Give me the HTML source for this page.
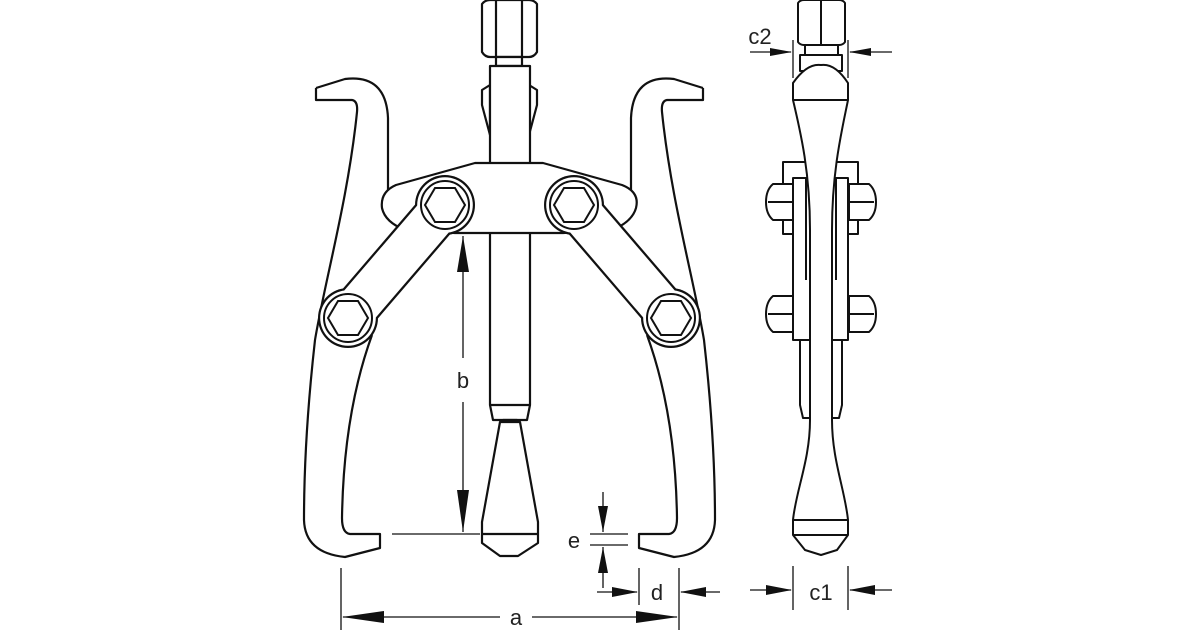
<!DOCTYPE html>
<html><head><meta charset="utf-8"><style>
html,body{margin:0;padding:0;background:#fff}
svg{display:block}
text{font-family:"Liberation Sans",sans-serif;font-size:22px;fill:#222}
</style></head><body>
<svg width="1200" height="630" viewBox="0 0 1200 630" xmlns="http://www.w3.org/2000/svg">
<defs>
<g id="jaw" fill="none" stroke="#111" stroke-width="2.2" stroke-linejoin="round">
  <path d="M316,88 L316,100 L352,100 Q358,101 357,112 C348,200 325,280 315,340 C306,420 304,480 304,520 Q305,553 345,557 L380,548 L380,534 L350,534 Q342,533 342,518 C343,450 352,390 372,335"/>
  <path d="M316,88 L345,79 Q386,74 388,118 L388,190"/>
</g>
<g id="arm">
  <line x1="445" y1="205" x2="348" y2="318" stroke="#111" stroke-width="46"/>
  <circle cx="445" cy="205" r="30" fill="#111"/><circle cx="348" cy="318" r="30" fill="#111"/>
  <line x1="445" y1="205" x2="348" y2="318" stroke="#fff" stroke-width="41.5"/>
  <circle cx="445" cy="205" r="27.8" fill="#fff"/><circle cx="348" cy="318" r="27.8" fill="#fff"/>
  <circle cx="348" cy="318" r="24" fill="none" stroke="#111" stroke-width="2"/>
  <circle cx="445" cy="205" r="24" fill="none" stroke="#111" stroke-width="2"/>
  <polygon points="425,205 435,188 455,188 465,205 455,222 435,222" fill="none" stroke="#111" stroke-width="2"/>
  <polygon points="328,318 338,301 358,301 368,318 358,335 338,335" fill="none" stroke="#111" stroke-width="2"/>
</g>
<marker id="ah" viewBox="0 0 10 10" refX="10" refY="5" markerWidth="10" markerHeight="4" markerUnits="userSpaceOnUse" orient="auto"><path d="M0,0 L10,5 L0,10Z" fill="#111"/></marker>
</defs>

<!-- jaws -->
<use href="#jaw"/>
<g transform="translate(1019,0) scale(-1,1)"><use href="#jaw"/></g>

<g fill="#fff" stroke="#111" stroke-width="2.2" stroke-linejoin="round">
  <!-- nut -->
  <path d="M482,4 Q485,0 490,0 L529,0 Q534,0 537,4 L537,52 Q534,57 529,57 L490,57 Q485,57 482,52Z"/>
  <line x1="496" y1="0" x2="496" y2="57"/><line x1="522" y1="0" x2="522" y2="57"/>
  <rect x="496" y="57" width="26" height="9"/>
  <!-- side guards -->
  <path d="M482,90 L490,85 L490,135 L482,105Z"/>
  <path d="M537,90 L529,85 L529,135 L537,105Z"/>
  <!-- spindle -->
  <path d="M490,66 L530,66 L530,405 L527,420 L493,420 L490,405Z"/>
  <line x1="490" y1="405" x2="530" y2="405"/>
  <path d="M503,420 L517,420 L509,437Z"/>
  <!-- foot -->
  <path d="M500,422 L520,422 L538,522 L538,543 L518,556 L500,556 L482,543 L482,522Z"/>
  <line x1="482" y1="534" x2="538" y2="534"/>
  <line x1="482" y1="522" x2="538" y2="522" stroke-width="0"/>
  <!-- yoke -->
  <path d="M475,163 L543,163 L622,185 Q640,192 636,208 Q632,222 612,230 L563,233 L455,233 L405,230 Q385,222 382,208 Q380,192 396,185Z"/>
</g>

<!-- arms -->
<use href="#arm"/>
<g transform="translate(1019,0) scale(-1,1)"><use href="#arm"/></g>

<!-- dimension lines -->
<g stroke="#111" stroke-width="1.3" fill="none">
  <!-- b -->
  <line x1="463" y1="236" x2="463" y2="358" marker-start="url(#ahs)"/>
  <line x1="463" y1="402" x2="463" y2="532"/>
  <line x1="392" y1="534" x2="480" y2="534"/>
  <!-- e -->
  <line x1="590" y1="534" x2="628" y2="534"/>
  <line x1="590" y1="545" x2="628" y2="545"/>
  <line x1="603" y1="492" x2="603" y2="532"/>
  <line x1="603" y1="547" x2="603" y2="588"/>
  <!-- d -->
  <line x1="639" y1="568" x2="639" y2="605"/>
  <line x1="679" y1="568" x2="679" y2="630"/>
  <line x1="597" y1="592" x2="637" y2="592"/>
  <line x1="681" y1="592" x2="720" y2="592"/>
  <!-- a -->
  <line x1="341" y1="568" x2="341" y2="630"/>
  <line x1="343" y1="617" x2="500" y2="617"/>
  <line x1="532" y1="617" x2="677" y2="617"/>
</g>
<g fill="#111">
  <path d="M463,236 L457,272 L469,272Z"/>
  <path d="M463,532 L457,490 L469,490Z"/>
  <path d="M603,532 L598,506 L608,506Z"/>
  <path d="M603,547 L598,573 L608,573Z"/>
  <path d="M638,592 L612,587 L612,597Z"/>
  <path d="M680,592 L706,587 L706,597Z"/>
  <path d="M342,617 L384,611 L384,623Z"/>
  <path d="M678,617 L636,611 L636,623Z"/>
</g>
<text x="463" y="388" text-anchor="middle">b</text>
<text x="574" y="548" text-anchor="middle">e</text>
<text x="657" y="600" text-anchor="middle">d</text>
<text x="516" y="625" text-anchor="middle">a</text>

<!-- side view -->
<g fill="#fff" stroke="#111" stroke-width="2" stroke-linejoin="round">
  <path d="M798,3 Q800,0 804,0 L839,0 Q843,0 845,3 L845,42 Q843,45 839,45 L804,45 Q800,45 798,42Z"/>
  <line x1="821" y1="0" x2="821" y2="45"/>
  <rect x="805" y="45" width="33" height="10"/>
  <rect x="800" y="55" width="42" height="16"/>
  <!-- bracket -->
  <rect x="783" y="162" width="75" height="72"/>
  <!-- nuts -->
  <path d="M773,184 L793,184 L793,220 L773,220 Q766,214 766,202 Q766,190 773,184Z"/>
  <line x1="768" y1="202" x2="793" y2="202"/>
  <path d="M869,184 L849,184 L849,220 L869,220 Q876,214 876,202 Q876,190 869,184Z"/>
  <line x1="849" y1="202" x2="874" y2="202"/>
  <path d="M773,296 L793,296 L793,332 L773,332 Q766,326 766,314 Q766,302 773,296Z"/>
  <line x1="768" y1="314" x2="793" y2="314"/>
  <path d="M869,296 L849,296 L849,332 L869,332 Q876,326 876,314 Q876,302 869,296Z"/>
  <line x1="849" y1="314" x2="874" y2="314"/>
  <!-- lower strips -->
  <path d="M800,340 L810,340 L810,418 L803,418 L800,405Z"/>
  <path d="M842,340 L832,340 L832,418 L839,418 L842,405Z"/>
  <!-- plates -->
  <rect x="793" y="178" width="17" height="162"/>
  <rect x="832" y="178" width="16" height="162"/>
  <line x1="806" y1="178" x2="806" y2="280" fill="none"/>
  <line x1="836" y1="178" x2="836" y2="280" fill="none"/>
  <!-- body -->
  <path d="M793,83 L793,100 C800,130 810,170 810,230 L810,420 C810,460 796,490 793,520 L793,535 L805,550 L821,555 L837,550 L848,535 L848,520 C845,490 832,460 832,420 L832,230 C832,170 842,130 848,100 L848,83 Q835,63 821,65 Q807,63 793,83Z"/>
  <line x1="793" y1="100" x2="848" y2="100"/>
  <line x1="793" y1="520" x2="848" y2="520"/>
  <line x1="793" y1="535" x2="848" y2="535"/>
</g>
<g stroke="#111" stroke-width="1.3">
  <line x1="793" y1="40" x2="793" y2="78"/><line x1="848" y1="40" x2="848" y2="78"/>
  <line x1="750" y1="52" x2="791" y2="52"/><line x1="850" y1="52" x2="892" y2="52"/>
  <line x1="793" y1="566" x2="793" y2="610"/><line x1="848" y1="566" x2="848" y2="610"/>
  <line x1="750" y1="590" x2="791" y2="590"/><line x1="850" y1="590" x2="892" y2="590"/>
</g>
<g fill="#111">
  <path d="M792,52 L770,48 L770,56Z"/><path d="M849,52 L871,48 L871,56Z"/>
  <path d="M792,590 L766,585 L766,595Z"/><path d="M849,590 L875,585 L875,595Z"/>
</g>
<text x="760" y="44" text-anchor="middle">c2</text>
<text x="821" y="600" text-anchor="middle">c1</text>
</svg>
</body></html>
